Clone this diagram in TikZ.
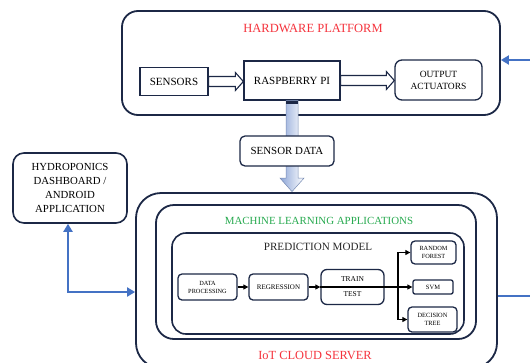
\documentclass[tikz,border=0pt]{standalone}
\usepackage{fontspec}
\setmainfont{Liberation Serif}
\usetikzlibrary{arrows.meta,calc}
\definecolor{navy}{RGB}{28,40,70}
\definecolor{hwred}{RGB}{245,50,60}
\definecolor{mlgreen}{RGB}{40,170,80}
\definecolor{linkblue}{RGB}{68,114,196}
\definecolor{shaftL}{RGB}{140,165,215}
\definecolor{shaftE}{RGB}{120,140,180}
\tikzset{
  bigbox/.style={draw=navy, line width=1.8pt, fill=white, inner sep=0pt},
  midbox/.style={draw=navy, line width=1.6pt, fill=white, inner sep=0pt, align=center},
  smallbox/.style={draw=navy, line width=1.3pt, fill=white, inner sep=0pt, align=center},
  arr/.style={draw=black, line width=1.1pt, -{Triangle[length=5pt,width=5pt]}},
  bluelink/.style={draw=linkblue, line width=2.4pt},
  bluetip/.style={-{Triangle[length=8pt,width=9pt]}},
  hollow/.style={draw=navy, fill=white, line width=1.1pt, line join=miter},
}
\begin{document}
\begin{tikzpicture}[x=1pt,y=-1pt]
\clip (0,0) rectangle (530,362);
\fill[white] (0,0) rectangle (530,362);

% hardware platform
\node[bigbox, rounded corners=16pt, minimum width=378pt, minimum height=104pt] (hw) at (311,63) {};
\node[text=hwred, font=\fontsize{12.5}{14}\selectfont] (hwt) at (313,28) {HARDWARE PLATFORM};
\node[smallbox, minimum width=68pt, minimum height=28pt, font=\fontsize{11}{13}\selectfont] (sens) at (174,81.5) {SENSORS};
\node[smallbox, minimum width=96pt, minimum height=39pt, font=\fontsize{11}{13}\selectfont] (rpi) at (292,80.5) {RASPBERRY PI};
\node[smallbox, rounded corners=7pt, minimum width=87pt, minimum height=40pt, font=\fontsize{9.5}{12}\selectfont] (out) at (438.5,80) {OUTPUT\\ACTUATORS};

\path[hollow] let \p1=(sens.east), \p2=(rpi.west) in
  (\x1,\y1+5pt) -- (\x2-8pt,\y1+5pt) -- (\x2-8pt,\y1+9pt) -- (\x2,\y1) -- (\x2-8pt,\y1-9pt) -- (\x2-8pt,\y1-5pt) -- (\x1,\y1-5pt) -- cycle;
\path[hollow] let \p1=(rpi.east), \p2=(out.west) in
  (\x1,\y1+5pt) -- (\x2-8pt,\y1+5pt) -- (\x2-8pt,\y1+9pt) -- (\x2,\y1) -- (\x2-8pt,\y1-9pt) -- (\x2-8pt,\y1-5pt) -- (\x1,\y1-5pt) -- cycle;

% IoT cloud server
\node[bigbox, rounded corners=25pt, minimum width=361pt, minimum height=175pt] (iot) at (316.5,280.5) {};
\node[bigbox, rounded corners=18pt, minimum width=320pt, minimum height=134pt] (ml) at (316,272) {};
\node[midbox, rounded corners=14pt, minimum width=292pt, minimum height=101pt] (pm) at (318,283.5) {};
\node[text=hwred, font=\fontsize{12.4}{14}\selectfont] (iott) at (315,355) {IoT CLOUD SERVER};
\node[text=mlgreen, font=\fontsize{10.9}{13}\selectfont] (mlt) at (319,221) {MACHINE LEARNING APPLICATIONS};
\node[text=black!85, font=\fontsize{11.1}{13}\selectfont] (pmt) at (318,247) {PREDICTION MODEL};

% sensor data shaft
\path[left color=shaftL, right color=white, draw=shaftE, line width=0.5pt] let \p1=(rpi.south), \p2=(iot.north) in
  (\x1-6pt,\y1) -- (\x1-6pt,\y2+14pt) -- (\x1-12pt,\y2+14pt) -- (\x1,\y2+0.5pt) -- (\x1+12pt,\y2+14pt) -- (\x1+6pt,\y2+14pt) -- (\x1+6pt,\y1) -- cycle;
\fill[navy] let \p1=(rpi.south) in (\x1-6pt,\y1) rectangle (\x1+6pt,\y1-3pt);
\node[smallbox, rounded corners=5pt, minimum width=94pt, minimum height=30pt, font=\fontsize{10.9}{13}\selectfont] (sd) at (287,151) {SENSOR DATA};

% hydroponics dashboard
\node[midbox, rounded corners=11pt, minimum width=114pt, minimum height=70pt, font=\fontsize{10.8}{13.7}\selectfont] (hyd) at (70,188) {HYDROPONICS\\DASHBOARD /\\ANDROID\\APPLICATION};

% prediction pipeline
\node[smallbox, rounded corners=4pt, minimum width=59pt, minimum height=26pt, font=\fontsize{6.3}{8}\selectfont] (dp) at (207.5,287) {DATA\\PROCESSING};
\node[smallbox, rounded corners=4pt, minimum width=59pt, minimum height=26pt, font=\fontsize{7}{9}\selectfont] (reg) at (278.5,287) {REGRESSION};
\node[smallbox, rounded corners=6pt, minimum width=63pt, minimum height=35pt, font=\fontsize{7.5}{15}\selectfont] (tt) at (352.5,287) {TRAIN\\TEST};
\node[smallbox, rounded corners=4pt, minimum width=45pt, minimum height=23pt, font=\fontsize{6.3}{7.5}\selectfont] (rf) at (433.5,252.5) {RANDOM\\FOREST};
\node[smallbox, rounded corners=2pt, minimum width=40pt, minimum height=14pt, font=\fontsize{6.5}{8}\selectfont] (svm) at (433,287) {SVM};
\node[smallbox, rounded corners=4pt, minimum width=49pt, minimum height=25pt, font=\fontsize{6.4}{8}\selectfont] (dt) at (432.5,319.5) {DECISION\\TREE};

\draw[arr] (dp) -- (reg);
\draw[arr] (reg) -- (tt);
\draw[arr] (tt.west) -- (svm.west);
\coordinate (br) at (398,287);
\draw[arr] (br) |- (rf.west);
\draw[arr] (br) |- (dt.west);

% blue links
\coordinate (rin) at (531,60);
\coordinate (rout) at (531,296);
\draw[bluelink, bluetip] (rin) -- (rin -| hw.east);
\draw[bluelink] (rout -| iot.east) -- (rout);
\draw[bluelink, {Triangle[length=8pt,width=9pt]}-{Triangle[length=8pt,width=9pt]}]
  ($(hyd.south)+(-2,0)$) |- ($(iot.west)+(0,11.5)$);
\end{tikzpicture}
\end{document}
